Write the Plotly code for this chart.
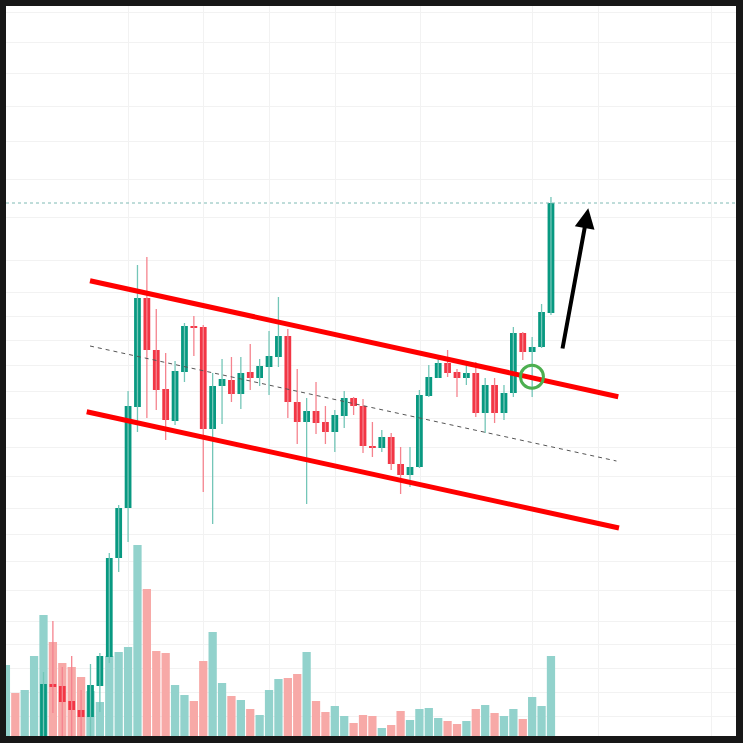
import plotly.graph_objects as go

# ---- data (chart units) ----
candle_idx = list(range(-4, 55))
opens = [None, None, None, None,
         -24, 52, 50, 35, 26, 19, 50, 79, 178, 228,
         329, 438, 386, 347, 315, 364, 410, 409, 307, 350,
         356, 342, 364, 358, 369, 379, 400, 334, 314, 325,
         314, 304, 320, 338, 330, 290, 288, 299, 272, 261,
         269, 340, 358, 373, 364, 358, 363, 323, 351, 323,
         343, 403, 384, 389, 423]
highs = [None, None, None, None,
         64, 115, 69, 80, 46, 72, 83, 183, 231, 345,
         471, 479, 427, 383, 375, 413, 420, 411, 363, 377,
         379, 379, 392, 377, 405, 439, 407, 367, 338, 354,
         330, 326, 345, 339, 337, 314, 306, 303, 289, 289,
         346, 371, 378, 386, 367, 371, 374, 358, 358, 351,
         409, 404, 399, 432, 539]
lows = [None, None, None, None,
        -34, 23, -4, -10, -10, -10, 24, 73, 164, 194,
        304, 318, 326, 296, 311, 354, 380, 244, 212, 312,
        334, 327, 346, 350, 341, 369, 318, 292, 232, 302,
        292, 284, 308, 321, 283, 279, 284, 266, 242, 249,
        268, 339, 358, 359, 339, 351, 319, 303, 313, 316,
        339, 376, 339, 388, 421]
closes = [None, None, None, None,
          52, 49, 34, 26, 19, 51, 80, 178, 228, 330,
          438, 386, 346, 316, 365, 410, 408, 307, 350, 357,
          342, 363, 358, 370, 380, 400, 334, 314, 325, 313,
          304, 321, 338, 330, 290, 288, 299, 272, 261, 269,
          341, 359, 373, 363, 358, 363, 323, 351, 323, 343,
          403, 384, 389, 424, 533]
volumes = [71, 43, 46, 80,
           121, 94, 73, 69, 59, 45, 34, 80, 84, 89,
           191, 147, 85, 83, 51, 41, 35, 75, 104, 53,
           40, 36, 27, 21, 46, 57, 58, 62, 84, 35,
           24, 30, 20, 13, 21, 20, 8, 11, 25, 16,
           27, 28, 18, 15, 12, 15, 27, 31, 23, 20,
           27, 17, 39, 30, 80]
hidden_up = [True, False, True, True]  # direction of candles below the visible range

grid_x = [9, 17, 24, 31.1, 40.15, 52, 59.1, 71.1]
grid_y = [723.7, 693.7, 662.7, 629.3, 594.3, 557, 518.7, 476, 443.7, 419.3,
          395.3, 371, 344.3, 317.7, 288.7, 259.3, 228, 202, 174.3, 145.3,
          115, 91.7, 67.7, 43.3, 19.3]
last_price = 533

upper_channel = {"x": [4.95, 61.16], "y": [455.3, 339.3]}
lower_channel = {"x": [4.6, 61.24], "y": [324.3, 208]}
mid_channel = {"x": [4.95, 60.97], "y": [390, 275]}
circle_box = {"x": [50.76, 53.2], "y": [347.8, 370.8]}
arrow_tail = (55.2, 386)
arrow_tip = (57.97, 527.7)

# ---- colors ----
UP, DOWN = "#089981", "#f23645"
UP_WICK, DOWN_WICK = "#74c6b8", "#f5838e"
UP_VOL, DOWN_VOL = "#92d2cc", "#f7a9a7"

up_flags = []
for k, (o, c) in enumerate(zip(opens, closes)):
    up_flags.append(hidden_up[k] if o is None else c >= o)

fig = go.Figure()

# volume (primary y, drawn beneath)
fig.add_trace(go.Bar(
    x=candle_idx, y=volumes, width=0.88,
    marker=dict(color=[UP_VOL if u else DOWN_VOL for u in up_flags], line=dict(width=0)),
    yaxis="y", hoverinfo="skip"))

# wicks
for want_up, col in [(True, UP_WICK), (False, DOWN_WICK)]:
    wx, wy = [], []
    for i, o, h, l, c, u in zip(candle_idx, opens, highs, lows, closes, up_flags):
        if o is None or u != want_up:
            continue
        wx += [i, i, None]
        wy += [l, h, None]
    fig.add_trace(go.Scatter(x=wx, y=wy, mode="lines", line=dict(color=col, width=1.3),
                             yaxis="y2", hoverinfo="skip"))

# bodies
for want_up, col in [(True, UP), (False, DOWN)]:
    bx, bb, bh = [], [], []
    for i, o, c, u in zip(candle_idx, opens, closes, up_flags):
        if o is None or u != want_up:
            continue
        bx.append(i)
        bb.append(min(o, c))
        bh.append(max(abs(c - o), 1.5))
    fig.add_trace(go.Bar(x=bx, y=bh, base=bb, width=0.72,
                         marker=dict(color=col, line=dict(width=0)),
                         yaxis="y2", hoverinfo="skip"))

# channel lines
fig.add_shape(type="line", xref="x", yref="y2",
              x0=upper_channel["x"][0], x1=upper_channel["x"][1],
              y0=upper_channel["y"][0], y1=upper_channel["y"][1],
              line=dict(color="#ff0000", width=5))
fig.add_shape(type="line", xref="x", yref="y2",
              x0=lower_channel["x"][0], x1=lower_channel["x"][1],
              y0=lower_channel["y"][0], y1=lower_channel["y"][1],
              line=dict(color="#ff0000", width=5))
fig.add_shape(type="line", xref="x", yref="y2",
              x0=mid_channel["x"][0], x1=mid_channel["x"][1],
              y0=mid_channel["y"][0], y1=mid_channel["y"][1],
              line=dict(color="#555555", width=1, dash="4px,4px"))
# last price dotted line
fig.add_shape(type="line", xref="paper", yref="y2", x0=0, x1=1,
              y0=last_price, y1=last_price,
              line=dict(color="#7fbab4", width=1, dash="dot"))
# green circle
fig.add_shape(type="circle", xref="x", yref="y2",
              x0=circle_box["x"][0], x1=circle_box["x"][1],
              y0=circle_box["y"][0], y1=circle_box["y"][1],
              line=dict(color="#4caf50", width=3))
# arrow
fig.add_annotation(x=arrow_tip[0], y=arrow_tip[1], xref="x", yref="y2",
                   ax=arrow_tail[0], ay=arrow_tail[1], axref="x", ayref="y2",
                   showarrow=True, arrowhead=2, arrowsize=1, arrowwidth=4,
                   arrowcolor="#000000", text="", standoff=0)

fig.update_layout(
    width=743, height=743,
    margin=dict(l=6, r=7, t=6, b=7),
    paper_bgcolor="#171717", plot_bgcolor="#ffffff",
    showlegend=False, barmode="overlay", hovermode=False,
    xaxis=dict(range=[-3.99, 73.69], tickvals=grid_x, showticklabels=False,
               showgrid=True, gridcolor="#f2f2f2", gridwidth=1, zeroline=False,
               showline=False, ticks=""),
    yaxis=dict(range=[0, 730], showgrid=False, showticklabels=False,
               zeroline=False, showline=False, ticks=""),
    yaxis2=dict(range=[0, 730], overlaying="y", tickvals=grid_y,
                showticklabels=False, showgrid=True, gridcolor="#f2f2f2",
                zeroline=False, showline=False, ticks=""),
)

fig.write_html("out.html")
